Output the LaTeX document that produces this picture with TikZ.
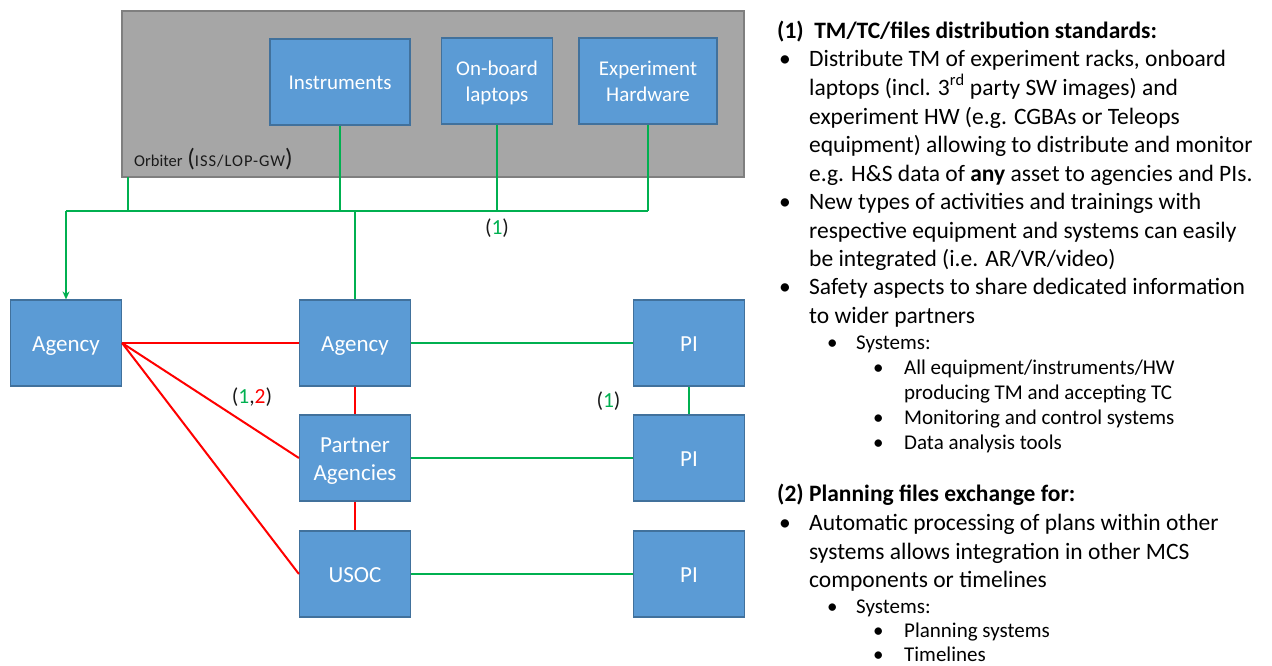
\documentclass[tikz,border=0pt]{standalone}
\usepackage{fontspec}
\setmainfont{Carlito}
\usetikzlibrary{arrows.meta}
\definecolor{boxblue}{HTML}{5B9BD5}
\definecolor{boxedge}{HTML}{41719C}
\definecolor{orbfill}{HTML}{A6A6A6}
\definecolor{orbedge}{HTML}{7F7F7F}
\definecolor{linkgreen}{HTML}{00B050}
\definecolor{linkred}{HTML}{FF0000}
\definecolor{inktext}{HTML}{1A1A1A}

\begin{document}
\begin{tikzpicture}[x=1pt,y=-1pt,
  unitbox/.style={draw=boxedge, line width=1.2pt, fill=boxblue, text=white,
    minimum width=111pt, minimum height=86pt, inner sep=2pt, align=center,
    font=\fontsize{23}{28}\selectfont, text height=17pt, text depth=0pt},
  twoline/.style={text height=45pt, text depth=0pt},
  topbox/.style={unitbox, font=\fontsize{21}{26}\selectfont, text height=15pt},
  toptwo/.style={text height=41pt, text depth=0pt},
  gline/.style={draw=linkgreen, line width=2pt},
  rline/.style={draw=linkred, line width=2pt},
  lbl/.style={inner sep=0pt, text=inktext, font=\fontsize{21.5}{24}\selectfont},
  txt/.style={anchor=base west, inner sep=0pt, text=black, font=\fontsize{23.5}{28}\selectfont},
  subtxt/.style={anchor=base west, inner sep=0pt, text=black, font=\fontsize{21}{25}\selectfont},
]
\useasboundingbox (0,0) rectangle (1272,665);

% ---- orbiter and on-board assets ----
\node[draw=orbedge, line width=1.2pt, fill=orbfill, minimum width=622pt,
      minimum height=166pt, inner sep=0pt] (orbiter) at (433,94) {};
\node[anchor=base west, inner sep=0pt, text=inktext] (orblabel) at (134,166)
  {\fontsize{16.5}{18}\selectfont Orbiter\hspace{1pt}
   {\fontsize{25}{25}\selectfont(}{\addfontfeatures{LetterSpace=6}ISS/LOP-GW}{\fontsize{25}{25}\selectfont)}};

\node[topbox, minimum width=140pt] (instr) at (340,82) {Instruments};
\node[topbox, toptwo] (laptops) at (497,81) {On-board\\laptops};
\node[topbox, toptwo, minimum width=138pt] (exphw) at (648,81) {Experiment\\Hardware};

% ---- ground segment ----
\node[unitbox] (ag1) at (66,343) {Agency};
\node[unitbox] (ag2) at (355,343) {Agency};
\node[unitbox] (pi1) at (689,343) {PI};
\node[unitbox, twoline] (partner) at (355,458) {Partner\\Agencies};
\node[unitbox] (pi2) at (689,458) {PI};
\node[unitbox] (usoc) at (355,574) {USOC};
\node[unitbox] (pi3) at (689,574) {PI};

% ---- TM/TC distribution bus ----
\coordinate (busL) at (66,211);
\coordinate (busR) at (648,211);
\coordinate (orbtap) at (128,177);
\draw[gline] (busL) -- (busR);
\draw[gline] (orbtap) -- (orbtap |- busL);
\draw[gline] (instr.south) -- (instr.south |- busL);
\draw[gline] (laptops.south) -- (laptops.south |- busL);
\draw[gline] (exphw.south) -- (busR);
\draw[gline, -{Stealth[length=8pt, width=7pt]}] (busL) -- (ag1.north);
\draw[gline] (ag2.north |- busL) -- (ag2.north);

% ---- agency links ----
\draw[rline] (ag1.east) -- (ag2.west);
\draw[rline] (ag1.east) -- (partner.west);
\draw[rline] (ag1.east) -- (usoc.west);
\draw[rline] (ag2.south) -- (partner.north);
\draw[rline] (partner.south) -- (usoc.north);

% ---- PI links ----
\draw[gline] (ag2.east) -- (pi1.west);
\draw[gline] (partner.east) -- (pi2.west);
\draw[gline] (usoc.east) -- (pi3.west);
\draw[gline] (pi1.south) -- (pi2.north);

% ---- link labels ----
\node[lbl] (busnote) at (497,228) {(\textcolor{linkgreen}{1})};
\node[lbl] (agnote) at (252,397) {(\textcolor{linkgreen}{1},\textcolor{linkred}{2})};
\node[lbl] (pinote) at (608.5,401) {(\textcolor{linkgreen}{1})};

% ---- notes: distribution standards ----
\node[txt] (h1) at (777,38) {\textbf{(1)\hspace{0.45em}TM/TC/files distribution standards:}};
\node[txt] (b1) at (779,66) {\textbullet};
\node[txt] (l1) at (809,66) {Distribute TM of experiment racks, onboard};
\node[txt] (l2) at (809,95) {laptops (incl. 3\textsuperscript{rd} party SW images) and};
\node[txt] (l3) at (809,124) {experiment HW (e.g. CGBAs or Teleops};
\node[txt] (l4) at (809,152) {equipment) allowing to distribute and monitor};
\node[txt] (l5) at (809,181) {e.g. H\&S data of \textbf{any} asset to agencies and PIs.};
\node[txt] (b2) at (779,209) {\textbullet};
\node[txt] (l6) at (809,209) {New types of activities and trainings with};
\node[txt] (l7) at (809,238) {respective equipment and systems can easily};
\node[txt] (l8) at (809,266) {be integrated (i.e. AR/VR/video)};
\node[txt] (b3) at (779,294) {\textbullet};
\node[txt] (l9) at (809,294) {Safety aspects to share dedicated information};
\node[txt] (l10) at (809,323) {to wider partners};
\node[subtxt] (b4) at (827,349) {\textbullet};
\node[subtxt] (l11) at (856,349) {Systems:};
\node[subtxt] (b5) at (873,374) {\textbullet};
\node[subtxt] (l12) at (904,374) {All equipment/instruments/HW};
\node[subtxt] (l13) at (904,399) {producing TM and accepting TC};
\node[subtxt] (b6) at (873,424) {\textbullet};
\node[subtxt] (l14) at (904,424) {Monitoring and control systems};
\node[subtxt] (b7) at (873,449) {\textbullet};
\node[subtxt] (l15) at (904,449) {Data analysis tools};

% ---- notes: planning files ----
\node[txt] (h2) at (777,501) {\textbf{(2) Planning files exchange for:}};
\node[txt] (b8) at (779,530) {\textbullet};
\node[txt] (l16) at (809,530) {Automatic processing of plans within other};
\node[txt] (l17) at (809,559) {systems allows integration in other MCS};
\node[txt] (l18) at (809,587) {components or timelines};
\node[subtxt] (b9) at (827,613) {\textbullet};
\node[subtxt] (l19) at (856,613) {Systems:};
\node[subtxt] (b10) at (873,637) {\textbullet};
\node[subtxt] (l20) at (904,637) {Planning systems};
\node[subtxt] (b11) at (873,661) {\textbullet};
\node[subtxt] (l21) at (904,661) {Timelines};
\end{tikzpicture}
\end{document}
